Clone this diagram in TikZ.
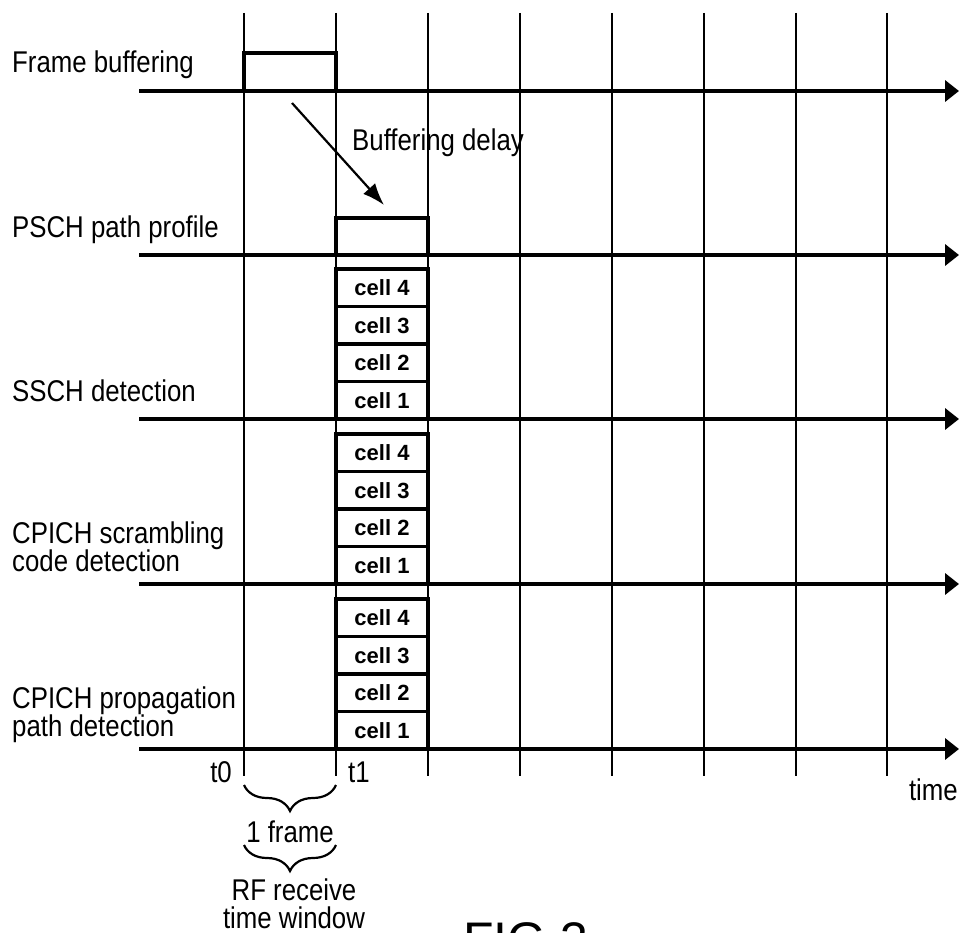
\documentclass[tikz,border=0pt]{standalone}
\usepackage{fontspec}
\setmainfont{Liberation Sans}
\newfontfamily\lblfont[FakeStretch=0.86]{Liberation Sans}
\usetikzlibrary{arrows.meta,decorations.pathreplacing}
\begin{document}
\begin{tikzpicture}[x=1pt,y=-1pt,
  lbl/.style={font=\lblfont\fontsize{30}{28}\selectfont, inner sep=0pt, align=left},
  lblc/.style={font=\lblfont\fontsize{30}{28}\selectfont, inner sep=0pt, align=center},
  axisline/.style={line width=3.6pt, -{Triangle[length=14pt,width=21pt]}},
  gridline/.style={line width=1.8pt},
  framebox/.style={draw, line width=3.4pt, inner sep=0pt, minimum width=92pt, minimum height=38pt},
  cellbox/.style={draw, line width=3.4pt, inner sep=0pt, minimum width=92pt, minimum height=37.5pt,
    font=\bfseries\fontsize{22}{22}\selectfont},
  bracestyle/.style={line width=2.2pt, decorate, decoration={brace, mirror, amplitude=26pt}}
]
\useasboundingbox (0,0) rectangle (960,933);
\clip (0,0) rectangle (960,933);

% vertical grid lines
\foreach \x [count=\i] in {244,336,428,520,612,704,796,887} {
  \coordinate (gt\i) at (\x,13);
  \coordinate (gb\i) at (\x,776);
  \draw[gridline] (gt\i) -- (gb\i);
}

% time axes
\foreach \y [count=\i] in {91,255,419,584,749} {
  \coordinate (axs\i) at (139,\y);
  \coordinate (axe\i) at (959,\y);
  \draw[axisline] (axs\i) -- (axe\i);
}

% frame buffering and PSCH boxes
\node[framebox] (fbbox) at (290,72) {};
\node[framebox, minimum height=37pt] (pschbox) at (382,236.5) {};

% cell boxes
\foreach \A/\g in {419/a,584/b,749/c} {
  \foreach \k in {1,...,4} {
    \node[cellbox] (cell\g\k) at (382,{\A-18.75-37.5*(\k-1)}) {cell \k};
  }
}

% buffering delay arrow
\coordinate (bdS) at (292,103);
\coordinate (bdE) at (384,205);
\draw[line width=2.2pt, -{Latex[length=22pt,width=16pt]}] (bdS) -- (bdE);
\node[lbl, anchor=base west] (bdlbl) at (352,151) {Buffering delay};

% left labels (base anchor = baseline of the last line)
\node[lbl, anchor=base west] (l1) at (12,73) {Frame buffering};
\node[lbl, anchor=base west] (l2) at (12,237) {PSCH path profile};
\node[lbl, anchor=base west] (l3) at (12,401) {SSCH detection};
\node[lbl, anchor=base west] (l4) at (12,571) {CPICH scrambling\\code detection};
\node[lbl, anchor=base west] (l5) at (12,736) {CPICH propagation\\path detection};

% time labels
\node[lbl, anchor=base east] (t0) at (232,782) {t0};
\node[lbl, anchor=base west] (t1) at (348,782) {t1};
\node[lbl, anchor=base east] (tm) at (958,800) {time};

% braces
\coordinate (b1l) at (244,785);
\coordinate (b1r) at (336,785);
\draw[bracestyle] (b1l) -- (b1r);
\node[lblc, anchor=base] (oneframe) at (290,842) {1 frame};
\coordinate (b2l) at (244,845);
\coordinate (b2r) at (336,845);
\draw[bracestyle] (b2l) -- (b2r);
\node[lblc, anchor=base] (rfw) at (294,928) {RF receive\\time window};

% figure caption (cut off at the bottom, as in the reference)
\node[font=\fontsize{50}{50}\selectfont, inner sep=0pt, anchor=base west] (fig) at (463,957) {FIG.3};
\end{tikzpicture}
\end{document}
